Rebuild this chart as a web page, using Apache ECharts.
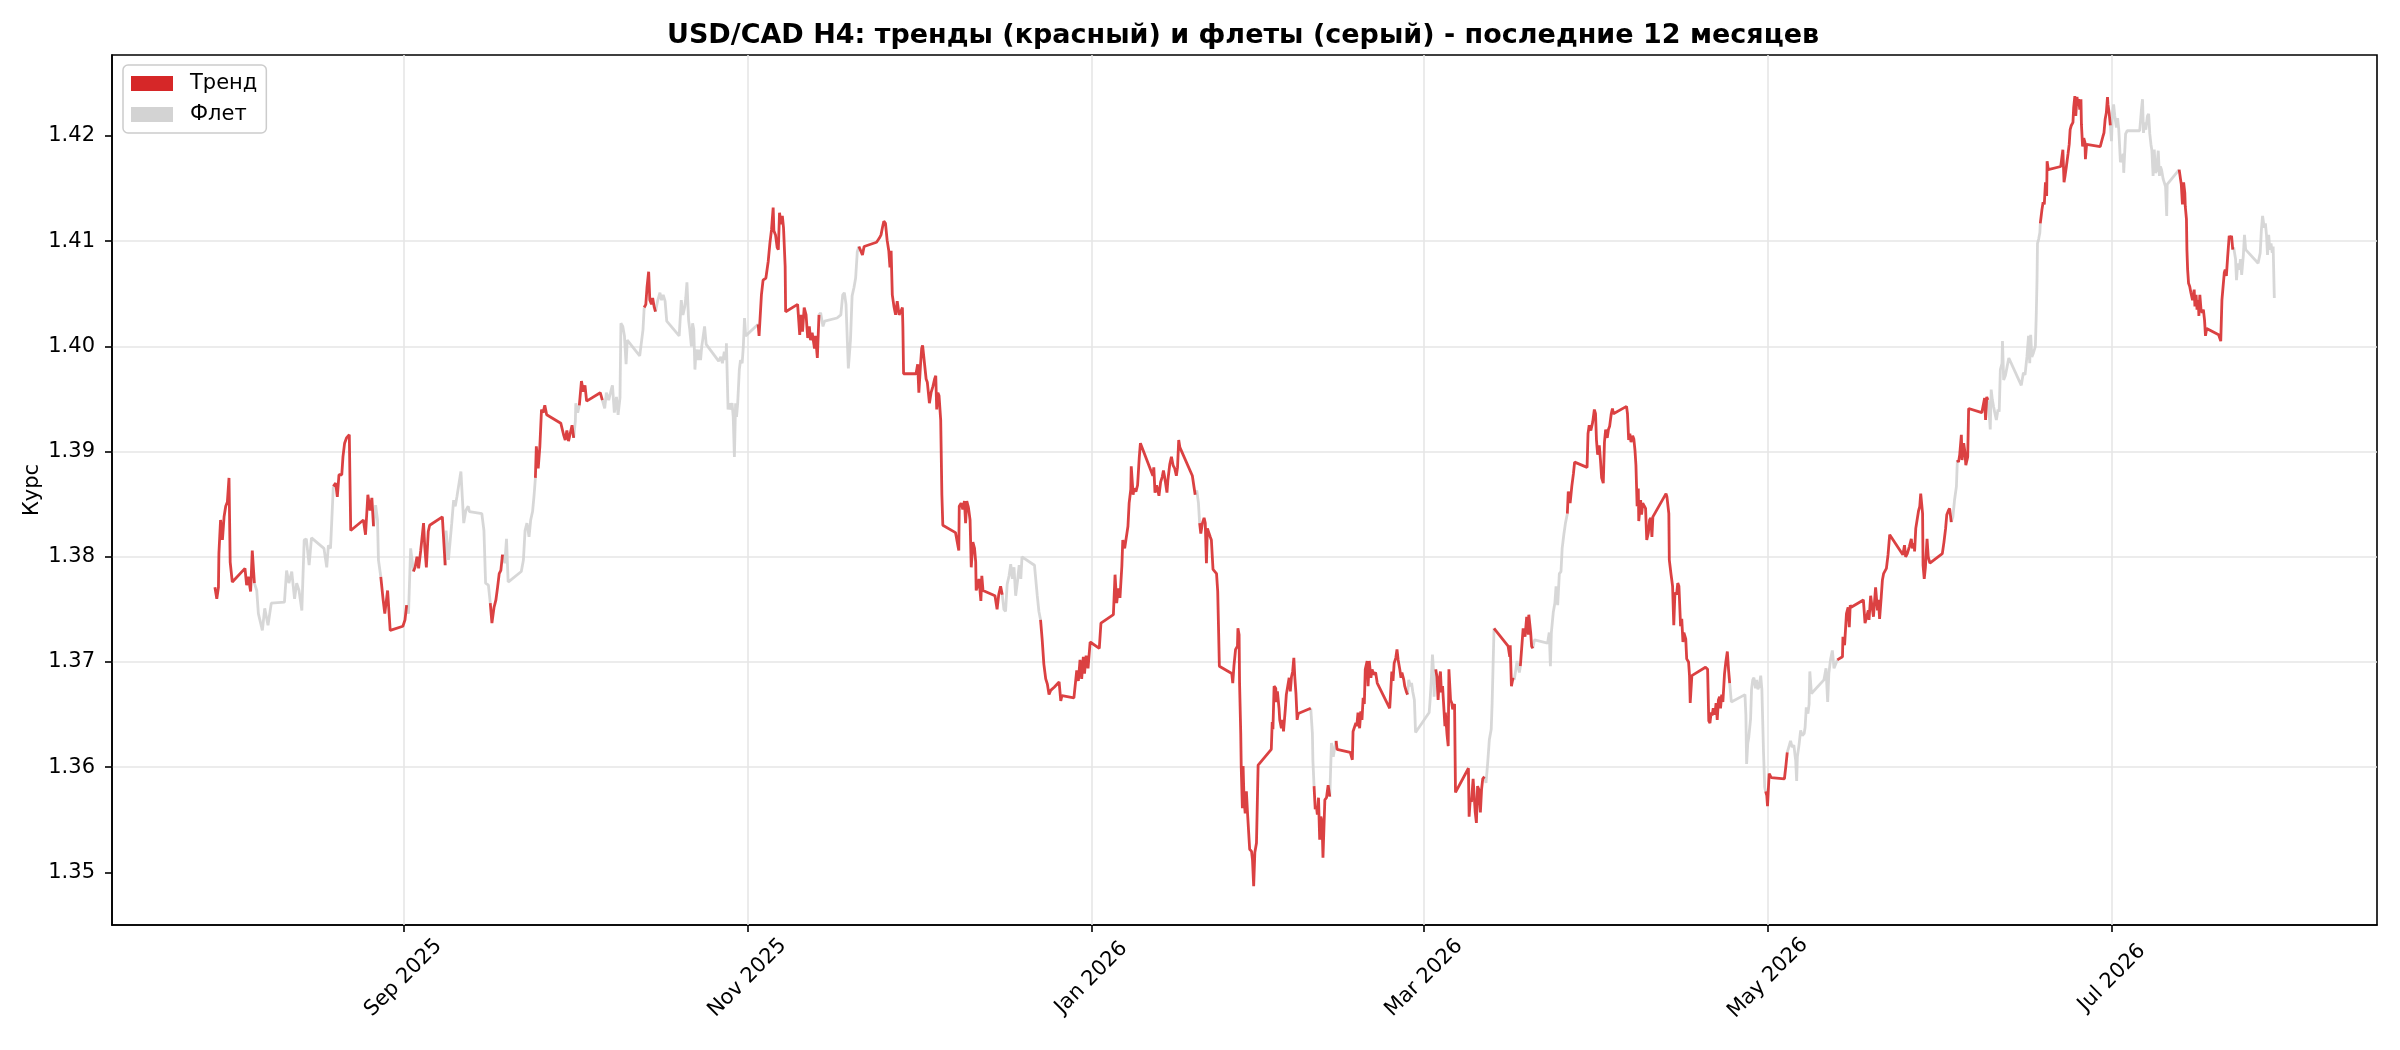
<!DOCTYPE html>
<html>
<head>
<meta charset="utf-8">
<title>USD/CAD H4</title>
<script src="https://cdn.jsdelivr.net/npm/echarts@6/dist/echarts.min.js"></script>
<style>
html, body { margin: 0; padding: 0; background: #fff; }
#chart { width: 2400px; height: 1050px; }
</style>
</head>
<body>
<div id="chart"></div>
<script>
// H4 closes ('YYYY-MM-DD HH'), one line of times per line of rates
var times = [
    // Jul 2025
    '2025-07-29 14','2025-07-29 22','2025-07-30 05','2025-07-30 07','2025-07-30 14','2025-07-30 22','2025-07-31 05','2025-07-31 12','2025-07-31 19',
    // Aug 2025
    '2025-08-01 02','2025-08-01 07','2025-08-01 16','2025-08-03 22','2025-08-04 05','2025-08-04 12','2025-08-04 22','2025-08-05 05','2025-08-05 14','2025-08-06 00',
    '2025-08-06 07','2025-08-07 00','2025-08-07 10','2025-08-08 00','2025-08-08 14','2025-08-10 22','2025-08-11 07','2025-08-11 17','2025-08-12 05','2025-08-12 17',
    '2025-08-13 02','2025-08-13 12','2025-08-14 00','2025-08-14 10','2025-08-14 19','2025-08-15 07','2025-08-15 17','2025-08-17 22','2025-08-18 10','2025-08-18 17',
    '2025-08-19 02','2025-08-19 14','2025-08-20 00','2025-08-20 07','2025-08-20 14','2025-08-21 02','2025-08-21 07','2025-08-21 14','2025-08-21 22','2025-08-22 10',
    '2025-08-22 16','2025-08-24 22','2025-08-25 07','2025-08-25 17','2025-08-26 02','2025-08-26 10','2025-08-26 17','2025-08-27 02','2025-08-27 10','2025-08-27 14',
    '2025-08-28 00','2025-08-28 10','2025-08-28 17','2025-08-29 05','2025-08-29 16','2025-08-31 22',
    // Sep 2025
    '2025-09-01 07','2025-09-01 14','2025-09-01 22','2025-09-02 07','2025-09-02 19','2025-09-03 02','2025-09-03 10','2025-09-03 17','2025-09-04 02','2025-09-04 14',
    '2025-09-04 19','2025-09-05 02','2025-09-05 10','2025-09-05 16','2025-09-07 22','2025-09-08 10','2025-09-08 14','2025-09-09 00','2025-09-09 07','2025-09-09 14',
    '2025-09-09 22','2025-09-10 05','2025-09-10 12','2025-09-10 19','2025-09-11 05','2025-09-11 17','2025-09-12 02','2025-09-12 12','2025-09-12 17','2025-09-14 22',
    '2025-09-15 07','2025-09-15 14','2025-09-16 02','2025-09-16 10','2025-09-16 17','2025-09-17 02','2025-09-17 10','2025-09-17 17','2025-09-18 00','2025-09-18 07',
    '2025-09-18 14','2025-09-19 00','2025-09-19 07','2025-09-19 14','2025-09-21 22','2025-09-22 07','2025-09-22 14','2025-09-22 22','2025-09-23 07','2025-09-23 14',
    '2025-09-23 22','2025-09-24 05','2025-09-24 10','2025-09-24 14','2025-09-24 22','2025-09-25 05','2025-09-25 12','2025-09-25 19','2025-09-26 02','2025-09-26 10',
    '2025-09-28 22','2025-09-29 10','2025-09-29 17','2025-09-30 00','2025-09-30 07','2025-09-30 14','2025-09-30 22',
    // Oct 2025
    '2025-10-01 05','2025-10-01 12','2025-10-01 14','2025-10-01 22','2025-10-02 05','2025-10-02 14','2025-10-02 22','2025-10-03 05','2025-10-03 12','2025-10-05 22',
    '2025-10-06 07','2025-10-06 17','2025-10-07 00','2025-10-07 10','2025-10-07 22','2025-10-08 02','2025-10-08 10','2025-10-08 19','2025-10-09 02','2025-10-09 10',
    '2025-10-09 14','2025-10-09 22','2025-10-10 05','2025-10-10 12','2025-10-10 17','2025-10-12 22','2025-10-13 12','2025-10-13 17','2025-10-14 00','2025-10-14 05',
    '2025-10-14 12','2025-10-14 17','2025-10-15 00','2025-10-15 05','2025-10-15 12','2025-10-15 17','2025-10-16 02','2025-10-16 12','2025-10-16 19','2025-10-17 02',
    '2025-10-17 10','2025-10-17 17','2025-10-19 22','2025-10-20 07','2025-10-20 14','2025-10-20 22','2025-10-21 02','2025-10-21 07','2025-10-21 14','2025-10-21 19',
    '2025-10-22 02','2025-10-22 07','2025-10-22 12','2025-10-22 17','2025-10-22 22','2025-10-23 05','2025-10-23 10','2025-10-23 17','2025-10-23 22','2025-10-24 02',
    '2025-10-24 10','2025-10-24 17','2025-10-26 22','2025-10-27 07','2025-10-27 14','2025-10-27 22','2025-10-28 05','2025-10-28 07','2025-10-28 14','2025-10-28 19',
    '2025-10-29 00','2025-10-29 07','2025-10-29 12','2025-10-29 17','2025-10-29 22','2025-10-30 02','2025-10-30 07','2025-10-30 14','2025-10-30 19','2025-10-31 02',
    '2025-10-31 07','2025-10-31 12','2025-10-31 17',
    // Nov 2025
    '2025-11-02 22','2025-11-03 02','2025-11-03 12','2025-11-03 19','2025-11-04 07','2025-11-04 17','2025-11-05 00','2025-11-05 07','2025-11-05 14','2025-11-05 17',
    '2025-11-06 00','2025-11-06 07','2025-11-06 12','2025-11-06 17','2025-11-07 00','2025-11-07 05','2025-11-07 10','2025-11-07 17','2025-11-07 19','2025-11-09 22',
    '2025-11-10 07','2025-11-10 12','2025-11-10 19','2025-11-11 02','2025-11-11 10','2025-11-11 17','2025-11-12 00','2025-11-12 05','2025-11-12 12','2025-11-12 22',
    '2025-11-13 02','2025-11-13 10','2025-11-13 17','2025-11-14 00','2025-11-14 10','2025-11-14 17','2025-11-16 22','2025-11-17 14','2025-11-17 22','2025-11-18 05',
    '2025-11-18 12','2025-11-18 19','2025-11-18 22','2025-11-19 07','2025-11-19 14','2025-11-19 22','2025-11-20 05','2025-11-20 12','2025-11-20 19','2025-11-21 10',
    '2025-11-21 17','2025-11-23 22','2025-11-24 10','2025-11-24 17','2025-11-25 00','2025-11-25 05','2025-11-25 12','2025-11-25 19','2025-11-26 02','2025-11-26 07',
    '2025-11-26 12','2025-11-26 17','2025-11-27 00','2025-11-27 07','2025-11-27 14','2025-11-27 22','2025-11-28 05','2025-11-28 12','2025-11-28 14','2025-11-28 17',
    '2025-11-30 22',
    // Dec 2025
    '2025-12-01 05','2025-12-01 10','2025-12-01 17','2025-12-01 22','2025-12-02 02','2025-12-02 10','2025-12-02 17','2025-12-02 22','2025-12-03 07','2025-12-03 14',
    '2025-12-03 22','2025-12-04 05','2025-12-04 10','2025-12-04 14','2025-12-04 19','2025-12-05 00','2025-12-05 07','2025-12-05 12','2025-12-05 16','2025-12-07 22',
    '2025-12-08 12','2025-12-08 14','2025-12-08 22','2025-12-09 05','2025-12-09 12','2025-12-09 17','2025-12-09 22','2025-12-10 05','2025-12-10 12','2025-12-10 17',
    '2025-12-11 00','2025-12-11 07','2025-12-11 12','2025-12-11 14','2025-12-11 22','2025-12-12 02','2025-12-12 10','2025-12-12 14','2025-12-12 19','2025-12-14 22',
    '2025-12-15 07','2025-12-15 14','2025-12-15 22','2025-12-16 05','2025-12-16 12','2025-12-16 19','2025-12-17 02','2025-12-17 10','2025-12-17 17','2025-12-18 00',
    '2025-12-18 07','2025-12-18 14','2025-12-18 22','2025-12-19 05','2025-12-19 12','2025-12-19 17','2025-12-21 22','2025-12-22 10','2025-12-22 17','2025-12-23 00',
    '2025-12-23 07','2025-12-23 14','2025-12-23 22','2025-12-24 05','2025-12-24 12','2025-12-24 19','2025-12-25 10','2025-12-26 07','2025-12-26 14','2025-12-26 19',
    '2025-12-28 22','2025-12-29 10','2025-12-29 17','2025-12-30 00','2025-12-30 07','2025-12-30 14','2025-12-30 19','2025-12-31 02','2025-12-31 10','2025-12-31 19',
    // Jan 2026
    '2026-01-02 10','2026-01-02 17','2026-01-04 22','2026-01-05 05','2026-01-05 12','2026-01-05 19','2026-01-06 02','2026-01-06 10','2026-01-06 14','2026-01-06 22',
    '2026-01-07 05','2026-01-07 12','2026-01-07 17','2026-01-08 00','2026-01-08 02','2026-01-08 10','2026-01-08 14','2026-01-08 22','2026-01-09 05','2026-01-09 12',
    '2026-01-09 17','2026-01-11 22','2026-01-12 02','2026-01-12 07','2026-01-12 14','2026-01-12 22','2026-01-13 00','2026-01-13 07','2026-01-13 14','2026-01-13 19',
    '2026-01-14 00','2026-01-14 05','2026-01-14 10','2026-01-14 14','2026-01-14 22','2026-01-15 05','2026-01-15 12','2026-01-15 19','2026-01-16 02','2026-01-16 07',
    '2026-01-16 12','2026-01-16 17','2026-01-18 22','2026-01-19 10','2026-01-19 17','2026-01-20 00','2026-01-20 05','2026-01-20 10','2026-01-20 17','2026-01-21 00',
    '2026-01-21 05','2026-01-21 10','2026-01-21 14','2026-01-21 19','2026-01-22 02','2026-01-22 07','2026-01-22 14','2026-01-22 22','2026-01-23 05','2026-01-23 10',
    '2026-01-23 14','2026-01-23 17','2026-01-25 22','2026-01-26 02','2026-01-26 07','2026-01-26 14','2026-01-26 22','2026-01-27 00','2026-01-27 05','2026-01-27 07',
    '2026-01-27 12','2026-01-27 14','2026-01-27 19','2026-01-27 22','2026-01-28 02','2026-01-28 07','2026-01-28 12','2026-01-28 17','2026-01-28 22','2026-01-29 02',
    '2026-01-29 10','2026-01-29 14','2026-01-29 19','2026-01-30 00','2026-01-30 07','2026-01-30 14',
    // Feb 2026
    '2026-02-01 22','2026-02-02 02','2026-02-02 05','2026-02-02 10','2026-02-02 17','2026-02-02 19','2026-02-03 00','2026-02-03 07','2026-02-03 10','2026-02-03 17',
    '2026-02-03 22','2026-02-04 02','2026-02-04 10','2026-02-04 14','2026-02-04 22','2026-02-05 02','2026-02-05 07','2026-02-05 12','2026-02-05 17','2026-02-05 22',
    '2026-02-06 02','2026-02-06 07','2026-02-06 12','2026-02-06 17','2026-02-08 22','2026-02-09 05','2026-02-09 07','2026-02-09 12','2026-02-09 17','2026-02-09 22',
    '2026-02-10 02','2026-02-10 07','2026-02-10 12','2026-02-10 17','2026-02-10 22','2026-02-11 02','2026-02-11 10','2026-02-11 17','2026-02-12 00','2026-02-12 07',
    '2026-02-12 14','2026-02-12 22','2026-02-13 05','2026-02-13 10','2026-02-13 14','2026-02-15 22','2026-02-16 07','2026-02-16 10','2026-02-16 17','2026-02-16 22',
    '2026-02-17 02','2026-02-17 07','2026-02-17 14','2026-02-17 19','2026-02-18 00','2026-02-18 05','2026-02-18 10','2026-02-18 14','2026-02-18 22','2026-02-19 02',
    '2026-02-19 07','2026-02-19 14','2026-02-19 19','2026-02-20 02','2026-02-20 10','2026-02-20 17','2026-02-22 22','2026-02-23 02','2026-02-23 07','2026-02-23 12',
    '2026-02-23 17','2026-02-24 00','2026-02-24 05','2026-02-24 10','2026-02-24 17','2026-02-24 22','2026-02-25 02','2026-02-25 10','2026-02-25 14','2026-02-25 22',
    '2026-02-26 02','2026-02-26 07','2026-02-26 14','2026-02-26 19','2026-02-27 00','2026-02-27 07','2026-02-27 12',
    // Mar 2026
    '2026-03-01 22','2026-03-02 02','2026-03-02 07','2026-03-02 12','2026-03-02 17','2026-03-02 19','2026-03-03 02','2026-03-03 07','2026-03-03 12','2026-03-03 17',
    '2026-03-03 22','2026-03-04 02','2026-03-04 07','2026-03-04 12','2026-03-04 17','2026-03-04 19','2026-03-05 02','2026-03-05 07','2026-03-05 10','2026-03-05 17',
    '2026-03-05 22','2026-03-06 02','2026-03-06 10','2026-03-06 14','2026-03-08 21','2026-03-09 00','2026-03-09 05','2026-03-09 10','2026-03-09 17','2026-03-09 22',
    '2026-03-10 02','2026-03-10 07','2026-03-10 12','2026-03-10 17','2026-03-11 00','2026-03-11 05','2026-03-11 10','2026-03-11 17','2026-03-12 00','2026-03-12 07',
    '2026-03-12 14','2026-03-12 22','2026-03-13 02','2026-03-13 10','2026-03-13 16','2026-03-15 22','2026-03-16 05','2026-03-16 07','2026-03-16 12','2026-03-16 19',
    '2026-03-17 00','2026-03-17 07','2026-03-17 12','2026-03-17 22','2026-03-18 02','2026-03-18 07','2026-03-18 14','2026-03-18 22','2026-03-19 05','2026-03-19 12',
    '2026-03-19 14','2026-03-19 22','2026-03-20 02','2026-03-20 07','2026-03-20 14','2026-03-22 22','2026-03-23 05','2026-03-23 10','2026-03-23 14','2026-03-23 22',
    '2026-03-24 05','2026-03-24 10','2026-03-24 17','2026-03-25 00','2026-03-25 07','2026-03-25 12','2026-03-25 19','2026-03-26 02','2026-03-26 10','2026-03-26 14',
    '2026-03-26 22','2026-03-27 05','2026-03-27 12','2026-03-27 17','2026-03-29 22','2026-03-30 02','2026-03-30 07','2026-03-30 14','2026-03-30 22','2026-03-31 05',
    '2026-03-31 10','2026-03-31 14','2026-03-31 19',
    // Apr 2026
    '2026-04-01 02','2026-04-01 07','2026-04-01 12','2026-04-01 19','2026-04-02 00','2026-04-02 05','2026-04-02 12','2026-04-02 17','2026-04-02 22','2026-04-03 05',
    '2026-04-03 10','2026-04-03 14','2026-04-05 22','2026-04-06 02','2026-04-06 07','2026-04-06 12','2026-04-06 17','2026-04-07 00','2026-04-07 05','2026-04-07 10',
    '2026-04-07 14','2026-04-07 19','2026-04-08 00','2026-04-08 02','2026-04-08 10','2026-04-08 14','2026-04-08 19','2026-04-09 02','2026-04-09 07','2026-04-09 12',
    '2026-04-09 19','2026-04-10 00','2026-04-10 05','2026-04-10 10','2026-04-10 14','2026-04-12 22','2026-04-13 02','2026-04-13 10','2026-04-13 12','2026-04-13 19',
    '2026-04-14 02','2026-04-14 07','2026-04-14 12','2026-04-14 19','2026-04-15 00','2026-04-15 05','2026-04-15 12','2026-04-15 17','2026-04-15 22','2026-04-16 02',
    '2026-04-16 10','2026-04-16 14','2026-04-16 22','2026-04-17 02','2026-04-17 05','2026-04-17 12','2026-04-19 22','2026-04-20 07','2026-04-20 12','2026-04-20 17',
    '2026-04-20 22','2026-04-21 02','2026-04-21 07','2026-04-21 14','2026-04-21 19','2026-04-22 00','2026-04-22 05','2026-04-22 10','2026-04-22 14','2026-04-22 19',
    '2026-04-23 00','2026-04-23 07','2026-04-23 12','2026-04-23 19','2026-04-24 00','2026-04-24 05','2026-04-24 12','2026-04-26 22','2026-04-27 02','2026-04-27 05',
    '2026-04-27 10','2026-04-27 14','2026-04-27 22','2026-04-28 02','2026-04-28 07','2026-04-28 12','2026-04-28 19','2026-04-29 00','2026-04-29 05','2026-04-29 12',
    '2026-04-29 17','2026-04-29 22','2026-04-30 05','2026-04-30 10','2026-04-30 14','2026-04-30 19','2026-04-30 22',
    // May 2026
    '2026-05-01 05','2026-05-01 14','2026-05-03 22','2026-05-04 05','2026-05-04 10','2026-05-04 19','2026-05-05 00','2026-05-05 07','2026-05-05 14','2026-05-05 22',
    '2026-05-06 02','2026-05-06 05','2026-05-06 12','2026-05-06 19','2026-05-07 02','2026-05-07 10','2026-05-07 14','2026-05-07 19','2026-05-08 02','2026-05-08 07',
    '2026-05-08 10','2026-05-08 17','2026-05-10 22','2026-05-11 07','2026-05-11 14','2026-05-11 19','2026-05-12 02','2026-05-12 10','2026-05-12 17','2026-05-13 00',
    '2026-05-13 07','2026-05-13 14','2026-05-14 05','2026-05-14 07','2026-05-14 14','2026-05-14 22','2026-05-15 05','2026-05-15 10','2026-05-15 14','2026-05-15 18',
    '2026-05-17 22','2026-05-18 05','2026-05-18 12','2026-05-18 19','2026-05-18 22','2026-05-19 05','2026-05-19 10','2026-05-19 17','2026-05-19 22','2026-05-20 02',
    '2026-05-20 10','2026-05-20 14','2026-05-20 19','2026-05-21 02','2026-05-21 07','2026-05-21 12','2026-05-21 19','2026-05-22 00','2026-05-22 07','2026-05-22 14',
    '2026-05-24 22','2026-05-25 05','2026-05-25 10','2026-05-25 17','2026-05-25 22','2026-05-26 02','2026-05-26 10','2026-05-26 14','2026-05-26 22','2026-05-27 00',
    '2026-05-27 05','2026-05-27 12','2026-05-27 17','2026-05-27 22','2026-05-28 02','2026-05-28 07','2026-05-28 10','2026-05-28 12','2026-05-28 17','2026-05-28 22',
    '2026-05-29 05','2026-05-29 10','2026-05-29 17','2026-05-31 22',
    // Jun 2026
    '2026-06-01 05','2026-06-01 12','2026-06-01 17','2026-06-02 00','2026-06-02 05','2026-06-02 12','2026-06-02 19','2026-06-03 02','2026-06-03 10','2026-06-03 14',
    '2026-06-03 19','2026-06-04 00','2026-06-04 07','2026-06-04 10','2026-06-04 17','2026-06-04 22','2026-06-05 02','2026-06-05 10','2026-06-05 14','2026-06-07 22',
    '2026-06-08 10','2026-06-08 14','2026-06-08 19','2026-06-09 00','2026-06-09 05','2026-06-09 10','2026-06-09 14','2026-06-09 19','2026-06-10 00','2026-06-10 07',
    '2026-06-10 12','2026-06-10 19','2026-06-11 00','2026-06-11 05','2026-06-11 12','2026-06-11 14','2026-06-11 19','2026-06-12 02','2026-06-12 10','2026-06-12 17',
    '2026-06-14 22','2026-06-15 07','2026-06-15 14','2026-06-15 22','2026-06-16 05','2026-06-16 10','2026-06-16 14','2026-06-16 19','2026-06-17 02','2026-06-17 10',
    '2026-06-17 14','2026-06-17 17','2026-06-17 19','2026-06-18 00','2026-06-18 05','2026-06-18 07','2026-06-18 12','2026-06-18 14','2026-06-18 19','2026-06-19 00',
    '2026-06-19 05','2026-06-19 10','2026-06-19 12','2026-06-19 17','2026-06-21 22','2026-06-22 07','2026-06-22 12','2026-06-22 17','2026-06-22 22','2026-06-23 05',
    '2026-06-23 10','2026-06-23 14','2026-06-23 19','2026-06-24 02','2026-06-24 05','2026-06-24 10','2026-06-24 14','2026-06-24 19','2026-06-25 00','2026-06-25 02',
    '2026-06-25 07','2026-06-25 12','2026-06-25 14','2026-06-25 19','2026-06-26 00','2026-06-26 05','2026-06-26 07','2026-06-26 12','2026-06-28 22','2026-06-29 10',
    '2026-06-29 14','2026-06-29 19','2026-06-30 00','2026-06-30 05','2026-06-30 07','2026-06-30 12','2026-06-30 17','2026-06-30 22',
    // Jul 2026
    '2026-07-01 02','2026-07-01 07','2026-07-01 12','2026-07-01 19','2026-07-02 00','2026-07-02 05','2026-07-02 12','2026-07-02 17','2026-07-03 00','2026-07-03 02',
    '2026-07-03 10','2026-07-03 17','2026-07-05 22','2026-07-06 05','2026-07-06 10','2026-07-06 14','2026-07-06 19','2026-07-07 00','2026-07-07 07','2026-07-07 12',
    '2026-07-07 17','2026-07-07 22','2026-07-08 02','2026-07-08 07','2026-07-08 12','2026-07-08 17','2026-07-08 22','2026-07-09 05','2026-07-09 10','2026-07-09 14',
    '2026-07-09 19','2026-07-10 02','2026-07-10 12','2026-07-10 17','2026-07-10 19','2026-07-12 22','2026-07-13 07','2026-07-13 12','2026-07-13 17','2026-07-13 22',
    '2026-07-14 00','2026-07-14 05','2026-07-14 07','2026-07-14 10','2026-07-14 14','2026-07-14 19','2026-07-15 00','2026-07-15 02','2026-07-15 07','2026-07-15 14',
    '2026-07-15 17','2026-07-15 22','2026-07-16 02','2026-07-16 07','2026-07-16 10','2026-07-16 14','2026-07-16 19','2026-07-17 00','2026-07-17 05','2026-07-17 10',
    '2026-07-17 14','2026-07-17 19','2026-07-19 22','2026-07-20 07','2026-07-20 12','2026-07-20 17','2026-07-20 22','2026-07-21 02','2026-07-21 07','2026-07-21 12',
    '2026-07-21 19','2026-07-22 00','2026-07-22 05','2026-07-22 10','2026-07-22 14','2026-07-22 22','2026-07-23 02','2026-07-23 07','2026-07-23 14','2026-07-23 19',
    '2026-07-24 00','2026-07-24 07','2026-07-24 12','2026-07-24 17','2026-07-26 22','2026-07-27 07','2026-07-27 12','2026-07-27 17','2026-07-28 00','2026-07-28 05',
    '2026-07-28 10','2026-07-28 14','2026-07-28 19','2026-07-29 00','2026-07-29 05','2026-07-29 10','2026-07-29 14','2026-07-29 19'
];

var rates = [
    // Jul 2025
    1.3771,1.3760,1.3771,1.3803,1.3835,1.3816,1.3838,1.3848,1.3852,
    // Aug 2025
    1.3875,1.3795,1.3776,1.3789,1.3773,1.3781,1.3767,1.3806,1.3775,1.3768,
    1.3746,1.3730,1.3751,1.3735,1.3756,1.3757,1.3787,1.3775,1.3786,1.3760,
    1.3775,1.3768,1.3749,1.3816,1.3817,1.3792,1.3818,1.3808,1.3790,1.3811,
    1.3808,1.3867,1.3870,1.3857,1.3878,1.3878,1.3895,1.3908,1.3913,1.3916,
    1.3825,1.3835,1.3821,1.3859,1.3844,1.3856,1.3829,1.3849,1.3835,1.3797,
    1.3781,1.3759,1.3746,1.3768,1.3730,1.3734,
    // Sep 2025
    1.3740,1.3754,1.3746,1.3808,1.3786,1.3790,1.3800,1.3789,1.3806,1.3832,
    1.3810,1.3790,1.3824,1.3830,1.3838,1.3792,1.3825,1.3797,1.3797,1.3832,
    1.3854,1.3848,1.3857,1.3867,1.3881,1.3832,1.3844,1.3848,1.3843,1.3841,
    1.3825,1.3775,1.3773,1.3756,1.3737,1.3752,1.3759,1.3771,1.3784,1.3787,
    1.3802,1.3794,1.3817,1.3776,1.3786,1.3797,1.3825,1.3832,1.3819,1.3835,
    1.3843,1.3860,1.3875,1.3905,1.3884,1.3905,1.3940,1.3937,1.3944,1.3935,
    1.3927,1.3916,1.3911,1.3920,1.3910,1.3917,1.3925,
    // Oct 2025
    1.3913,1.3929,1.3946,1.3937,1.3944,1.3967,1.3957,1.3963,1.3948,1.3956,
    1.3949,1.3941,1.3956,1.3949,1.3960,1.3963,1.3937,1.3952,1.3935,1.3951,
    1.4022,1.4019,1.4010,1.3983,1.4006,1.3991,1.4016,1.4037,1.4040,1.4056,
    1.4071,1.4044,1.4040,1.4046,1.4037,1.4033,1.4043,1.4051,1.4044,1.4049,
    1.4043,1.4024,1.4010,1.4044,1.4030,1.4038,1.4046,1.4061,1.4025,1.4016,
    1.4000,1.4022,1.4016,1.3978,1.3997,1.3987,1.3997,1.3987,1.4000,1.4006,
    1.4019,1.4002,1.3986,1.3990,1.3984,1.3995,1.3987,1.4003,1.3940,1.3946,
    1.3940,1.3946,1.3933,1.3895,1.3946,1.3933,1.3946,1.3978,1.3987,1.3984,
    1.4000,1.4027,1.4010,
    // Nov 2025
    1.4021,1.4010,1.4049,1.4063,1.4065,1.4081,1.4098,1.4111,1.4132,1.4110,
    1.4106,1.4094,1.4092,1.4127,1.4116,1.4124,1.4113,1.4076,1.4033,1.4040,
    1.4011,1.4030,1.4014,1.4037,1.4030,1.4008,1.4019,1.4006,1.4013,1.3998,
    1.4010,1.3989,1.4030,1.4032,1.4019,1.4024,1.4027,1.4030,1.4049,1.4051,
    1.4040,1.3997,1.3979,1.4006,1.4048,1.4056,1.4065,1.4090,1.4095,1.4087,
    1.4095,1.4099,1.4103,1.4106,1.4114,1.4119,1.4117,1.4101,1.4091,1.4075,
    1.4091,1.4049,1.4038,1.4030,1.4043,1.4030,1.4033,1.4037,1.4019,1.3974,
    1.3974,
    // Dec 2025
    1.3983,1.3956,1.3982,1.3998,1.4001,1.4001,1.3969,1.3966,1.3946,1.3956,
    1.3962,1.3969,1.3972,1.3940,1.3956,1.3953,1.3930,1.3859,1.3830,1.3823,
    1.3806,1.3848,1.3851,1.3845,1.3853,1.3832,1.3853,1.3847,1.3835,1.3790,
    1.3814,1.3808,1.3795,1.3768,1.3774,1.3779,1.3758,1.3782,1.3768,1.3763,
    1.3750,1.3764,1.3772,1.3764,1.3750,1.3748,1.3774,1.3782,1.3793,1.3779,
    1.3790,1.3763,1.3777,1.3792,1.3779,1.3800,1.3792,1.3763,1.3748,1.3740,
    1.3721,1.3698,1.3684,1.3679,1.3669,1.3673,1.3676,1.3681,1.3663,1.3668,
    1.3666,1.3692,1.3682,1.3702,1.3684,1.3705,1.3689,1.3706,1.3694,1.3719,
    // Jan 2026
    1.3713,1.3737,1.3745,1.3783,1.3756,1.3770,1.3761,1.3791,1.3816,1.3808,
    1.3807,1.3829,1.3851,1.3864,1.3886,1.3859,1.3865,1.3862,1.3868,1.3894,
    1.3908,1.3877,1.3885,1.3861,1.3868,1.3868,1.3858,1.3871,1.3876,1.3882,
    1.3876,1.3877,1.3861,1.3873,1.3888,1.3895,1.3887,1.3884,1.3877,1.3885,
    1.3911,1.3904,1.3877,1.3859,1.3863,1.3851,1.3832,1.3822,1.3832,1.3837,
    1.3832,1.3794,1.3827,1.3827,1.3819,1.3816,1.3788,1.3788,1.3784,1.3767,
    1.3727,1.3696,1.3689,1.3680,1.3696,1.3712,1.3715,1.3732,1.3726,1.3680,
    1.3632,1.3601,1.3561,1.3601,1.3569,1.3556,1.3577,1.3556,1.3537,1.3522,
    1.3520,1.3512,1.3487,1.3519,1.3528,1.3602,
    // Feb 2026
    1.3617,1.3643,1.3636,1.3677,1.3675,1.3662,1.3672,1.3656,1.3645,1.3637,
    1.3645,1.3634,1.3656,1.3669,1.3670,1.3685,1.3672,1.3686,1.3691,1.3704,
    1.3686,1.3670,1.3645,1.3651,1.3656,1.3632,1.3607,1.3582,1.3560,1.3563,
    1.3555,1.3571,1.3531,1.3553,1.3548,1.3514,1.3569,1.3571,1.3583,1.3572,
    1.3623,1.3610,1.3620,1.3625,1.3617,1.3614,1.3607,1.3634,1.3633,1.3642,
    1.3639,1.3652,1.3637,1.3653,1.3645,1.3666,1.3660,1.3693,1.3701,1.3677,
    1.3701,1.3685,1.3693,1.3688,1.3690,1.3680,1.3656,1.3671,1.3691,1.3682,
    1.3699,1.3704,1.3712,1.3702,1.3693,1.3685,1.3690,1.3683,1.3677,1.3671,
    1.3669,1.3683,1.3677,1.3680,1.3672,1.3664,1.3633,
    // Mar 2026
    1.3652,1.3664,1.3683,1.3707,1.3690,1.3667,1.3693,1.3686,1.3664,1.3683,
    1.3691,1.3671,1.3677,1.3658,1.3639,1.3652,1.3631,1.3620,1.3693,1.3664,
    1.3661,1.3655,1.3660,1.3576,1.3599,1.3553,1.3570,1.3567,1.3589,1.3588,
    1.3557,1.3547,1.3582,1.3579,1.3557,1.3579,1.3589,1.3591,1.3585,1.3604,
    1.3626,1.3636,1.3661,1.3732,1.3733,1.3715,1.3705,1.3716,1.3677,1.3685,
    1.3683,1.3693,1.3701,1.3690,1.3696,1.3696,1.3732,1.3724,1.3743,1.3726,
    1.3745,1.3728,1.3715,1.3713,1.3721,1.3718,1.3728,1.3696,1.3728,1.3747,
    1.3756,1.3772,1.3754,1.3784,1.3786,1.3808,1.3821,1.3832,1.3841,1.3862,
    1.3851,1.3867,1.3879,1.3890,1.3885,1.3917,1.3925,1.3920,1.3928,1.3940,
    1.3936,1.3911,1.3897,
    // Apr 2026
    1.3906,1.3892,1.3875,1.3870,1.3909,1.3921,1.3913,1.3921,1.3924,1.3936,
    1.3941,1.3936,1.3943,1.3936,1.3911,1.3917,1.3909,1.3915,1.3912,1.3901,
    1.3887,1.3848,1.3865,1.3834,1.3854,1.3840,1.3851,1.3848,1.3846,1.3816,
    1.3823,1.3835,1.3837,1.3819,1.3838,1.3860,1.3857,1.3841,1.3797,1.3784,
    1.3772,1.3735,1.3766,1.3764,1.3775,1.3772,1.3734,1.3741,1.3719,1.3728,
    1.3722,1.3703,1.3700,1.3687,1.3661,1.3687,1.3695,1.3693,1.3644,1.3642,
    1.3652,1.3649,1.3656,1.3650,1.3661,1.3645,1.3664,1.3667,1.3656,1.3669,
    1.3662,1.3689,1.3699,1.3710,1.3693,1.3680,1.3662,1.3669,1.3649,1.3603,
    1.3623,1.3628,1.3646,1.3674,1.3683,1.3685,1.3675,1.3683,1.3674,1.3678,
    1.3687,1.3674,1.3614,1.3581,1.3577,1.3573,1.3563,
    // May 2026
    1.3594,1.3590,1.3589,1.3603,1.3614,1.3621,1.3625,1.3619,1.3621,1.3606,
    1.3587,1.3610,1.3621,1.3635,1.3630,1.3632,1.3638,1.3657,1.3651,1.3660,
    1.3691,1.3670,1.3683,1.3694,1.3662,1.3689,1.3702,1.3711,1.3694,1.3695,
    1.3702,1.3703,1.3705,1.3724,1.3716,1.3746,1.3752,1.3733,1.3754,1.3752,
    1.3759,1.3737,1.3738,1.3749,1.3740,1.3763,1.3754,1.3743,1.3759,1.3771,
    1.3749,1.3759,1.3741,1.3762,1.3778,1.3784,1.3784,1.3789,1.3802,1.3821,
    1.3802,1.3811,1.3800,1.3803,1.3802,1.3810,1.3817,1.3808,1.3813,1.3805,
    1.3827,1.3827,1.3844,1.3848,1.3860,1.3859,1.3841,1.3792,1.3779,1.3790,
    1.3817,1.3800,1.3794,1.3803,
    // Jun 2026
    1.3814,1.3827,1.3840,1.3844,1.3846,1.3833,1.3838,1.3854,1.3867,1.3892,
    1.3890,1.3897,1.3916,1.3892,1.3908,1.3900,1.3887,1.3895,1.3941,1.3937,
    1.3951,1.3930,1.3952,1.3949,1.3938,1.3921,1.3959,1.3949,1.3943,1.3935,
    1.3930,1.3940,1.3938,1.3978,1.3984,1.4005,1.3968,1.3972,1.3981,1.3989,
    1.3963,1.3975,1.3973,1.3990,1.4010,1.3984,1.4011,1.3990,1.3994,1.4000,
    1.4032,1.4063,1.4098,1.4102,1.4108,1.4117,1.4116,1.4130,1.4137,1.4135,
    1.4156,1.4143,1.4176,1.4168,1.4171,1.4187,1.4156,1.4163,1.4171,1.4183,
    1.4192,1.4206,1.4210,1.4213,1.4227,1.4238,1.4219,1.4237,1.4230,1.4235,
    1.4225,1.4235,1.4211,1.4190,1.4198,1.4194,1.4178,1.4192,1.4190,1.4200,
    1.4203,1.4216,1.4222,1.4237,1.4230,1.4222,1.4210,1.4195,
    // Jul 2026
    1.4222,1.4230,1.4219,1.4208,1.4217,1.4206,1.4175,1.4176,1.4183,1.4165,
    1.4202,1.4205,1.4205,1.4224,1.4235,1.4203,1.4213,1.4206,1.4219,1.4221,
    1.4202,1.4192,1.4186,1.4162,1.4187,1.4165,1.4167,1.4186,1.4162,1.4171,
    1.4168,1.4159,1.4152,1.4124,1.4154,1.4168,1.4154,1.4135,1.4156,1.4146,
    1.4133,1.4121,1.4092,1.4073,1.4060,1.4057,1.4051,1.4052,1.4044,1.4054,
    1.4038,1.4049,1.4035,1.4044,1.4029,1.4049,1.4035,1.4032,1.4035,1.4025,
    1.4010,1.4017,1.4011,1.4005,1.4044,1.4057,1.4070,1.4073,1.4067,1.4084,
    1.4105,1.4103,1.4105,1.4092,1.4094,1.4083,1.4063,1.4079,1.4073,1.4083,
    1.4068,1.4086,1.4106,1.4092,1.4079,1.4089,1.4111,1.4124,1.4113,1.4117,
    1.4105,1.4087,1.4106,1.4092,1.4098,1.4089,1.4095,1.4046
];

// regime switches: each segment ending at or after the time takes the regime (T = trend, F = flat)
var regimeSwitches = [
    ['2025-07-29 14', 'T'], ['2025-08-06 00', 'F'], ['2025-08-20 00', 'T'], ['2025-08-27 02', 'F'],
    ['2025-08-28 10', 'T'], ['2025-09-01 22', 'F'], ['2025-09-03 02', 'T'], ['2025-09-08 14', 'F'],
    ['2025-09-16 17', 'T'], ['2025-09-19 00', 'F'], ['2025-09-24 14', 'T'], ['2025-10-01 12', 'F'],
    ['2025-10-02 14', 'T'], ['2025-10-06 17', 'F'], ['2025-10-14 00', 'T'], ['2025-10-16 02', 'F'],
    ['2025-11-03 02', 'T'], ['2025-11-14 00', 'F'], ['2025-11-21 10', 'T'], ['2025-12-16 12', 'F'],
    ['2025-12-23 07', 'T'], ['2026-01-19 17', 'F'], ['2026-01-20 10', 'T'], ['2026-02-09 05', 'F'],
    ['2026-02-09 17', 'T'], ['2026-02-12 14', 'F'], ['2026-02-13 14', 'T'], ['2026-02-26 07', 'F'],
    ['2026-03-03 07', 'T'], ['2026-03-12 00', 'F'], ['2026-03-13 16', 'T'], ['2026-03-17 00', 'F'],
    ['2026-03-18 07', 'T'], ['2026-03-20 14', 'F'], ['2026-03-26 14', 'T'], ['2026-04-24 12', 'F'],
    ['2026-04-30 19', 'T'], ['2026-05-04 19', 'F'], ['2026-05-13 14', 'T'], ['2026-06-02 19', 'F'],
    ['2026-06-03 19', 'T'], ['2026-06-09 05', 'F'], ['2026-06-18 12', 'T'], ['2026-06-30 22', 'F'],
    ['2026-07-13 07', 'T'], ['2026-07-22 14', 'F']
];

var xTickDates = ['2025-09-01 00', '2025-11-01 00', '2026-01-01 00', '2026-03-01 00', '2026-05-01 00', '2026-07-01 00'];
var xTickLabels = ['Sep 2025', 'Nov 2025', 'Jan 2026', 'Mar 2026', 'May 2026', 'Jul 2026'];
var yTicks = [1.35, 1.36, 1.37, 1.38, 1.39, 1.40, 1.41, 1.42];
var xRange = ['2025-07-11 08', '2026-08-17 00'];
var yRange = [1.345, 1.4277];

function parseTime(s) {
    return new Date(s.replace(' ', 'T') + ':00:00').getTime();
}

var ts = times.map(parseTime);
var switchTs = regimeSwitches.map(function (d) { return [parseTime(d[0]), d[1]]; });
var xTicks = xTickDates.map(parseTime);

function regimeOf(t) {
    var r = switchTs[0][1];
    for (var k = 0; k < switchTs.length; k++) {
        if (switchTs[k][0] <= t) r = switchTs[k][1];
    }
    return r;
}

// split the path into two series, a null breaks the line between runs
var trendData = [], flatData = [];
var lastIdx = { T: -2, F: -2 };
for (var i = 1; i < ts.length; i++) {
    var kind = regimeOf(ts[i]);
    var target = kind === 'T' ? trendData : flatData;
    if (lastIdx[kind] !== i - 1) {
        if (target.length) target.push([ts[i - 1], null]);
        target.push([ts[i - 1], rates[i - 1]]);
    }
    target.push([ts[i], rates[i]]);
    lastIdx[kind] = i;
}

var RED = '#d62728';
var GRAY = '#d3d3d3';
var FONT = 'DejaVu Sans';

var chart = echarts.init(document.getElementById('chart'));

chart.setOption({
    animation: false,
    backgroundColor: '#ffffff',
    textStyle: { fontFamily: FONT, color: '#000' },
    title: {
        text: 'USD/CAD H4: тренды (красный) и флеты (серый) - последние 12 месяцев',
        left: 667,
        top: 22,
        padding: 0,
        textStyle: { fontFamily: FONT, fontSize: 27, fontWeight: 'bold', color: '#000' }
    },
    legend: {
        orient: 'vertical',
        left: 123,
        top: 65,
        padding: [8, 9, 8, 8],
        itemWidth: 42,
        itemHeight: 15,
        itemGap: 10,
        backgroundColor: 'rgba(255,255,255,0.8)',
        borderColor: '#cccccc',
        borderWidth: 1.5,
        borderRadius: 5,
        selectedMode: false,
        textStyle: { fontFamily: FONT, fontSize: 21, lineHeight: 21, color: '#000', padding: [0, 0, 0, 12] },
        data: [
            { name: 'Тренд', icon: 'rect', itemStyle: { color: RED, borderWidth: 0, opacity: 1 } },
            { name: 'Флет', icon: 'rect', itemStyle: { color: GRAY, borderWidth: 0, opacity: 1 } }
        ]
    },
    grid: {
        left: 112,
        right: 23,
        top: 55,
        bottom: 125,
        show: true,
        borderColor: '#000',
        borderWidth: 1.6,
        backgroundColor: '#fff'
    },
    xAxis: {
        type: 'value',
        min: parseTime(xRange[0]),
        max: parseTime(xRange[1]),
        axisLine: { show: true, onZero: false, lineStyle: { color: '#000', width: 1.6 } },
        axisTick: { show: true, length: 7, customValues: xTicks, lineStyle: { color: '#000', width: 1.6 } },
        axisLabel: {
            customValues: xTicks,
            rotate: 45,
            align: 'center',
            verticalAlign: 'middle',
            margin: 53,
            fontFamily: FONT,
            fontSize: 21,
            color: '#000',
            formatter: function (v) {
                var k = xTicks.indexOf(v);
                return k >= 0 ? xTickLabels[k] : '';
            }
        },
        splitLine: { show: false }
    },
    yAxis: {
        type: 'value',
        min: yRange[0],
        max: yRange[1],
        minInterval: 0.01,
        maxInterval: 0.01,
        name: 'Курс',
        nameLocation: 'middle',
        nameRotate: 90,
        nameGap: 69,
        nameMoveOverlap: false,
        nameTextStyle: { fontFamily: FONT, fontSize: 21, color: '#000' },
        axisLine: { show: true, lineStyle: { color: '#000', width: 1.6 } },
        axisTick: { show: true, length: 7, customValues: yTicks, lineStyle: { color: '#000', width: 1.6 } },
        axisLabel: {
            customValues: yTicks,
            margin: 17,
            fontFamily: FONT,
            fontSize: 21,
            color: '#000',
            formatter: function (v) { return v.toFixed(2); }
        },
        splitLine: { show: true, showMinLine: false, showMaxLine: false, lineStyle: { color: '#e6e6e6', width: 1.6 } }
    },
    series: [
        {
            name: 'grid-x',
            type: 'line',
            data: [],
            silent: true,
            markLine: {
                silent: true,
                z: 1,
                animation: false,
                symbol: ['none', 'none'],
                label: { show: false },
                lineStyle: { color: '#e6e6e6', width: 1.6, type: 'solid' },
                emphasis: { disabled: true },
                data: xTicks.map(function (t) { return { xAxis: t }; })
            }
        },
        {
            name: 'Флет',
            type: 'line',
            data: flatData,
            showSymbol: false,
            symbol: 'none',
            connectNulls: false,
            silent: true,
            z: 3,
            itemStyle: { color: GRAY },
            lineStyle: { color: GRAY, width: 2.8, opacity: 0.9 },
            emphasis: { disabled: true }
        },
        {
            name: 'Тренд',
            type: 'line',
            data: trendData,
            showSymbol: false,
            symbol: 'none',
            connectNulls: false,
            silent: true,
            z: 4,
            itemStyle: { color: RED },
            lineStyle: { color: RED, width: 2.8, opacity: 0.88 },
            emphasis: { disabled: true }
        }
    ]
});
</script>
</body>
</html>
